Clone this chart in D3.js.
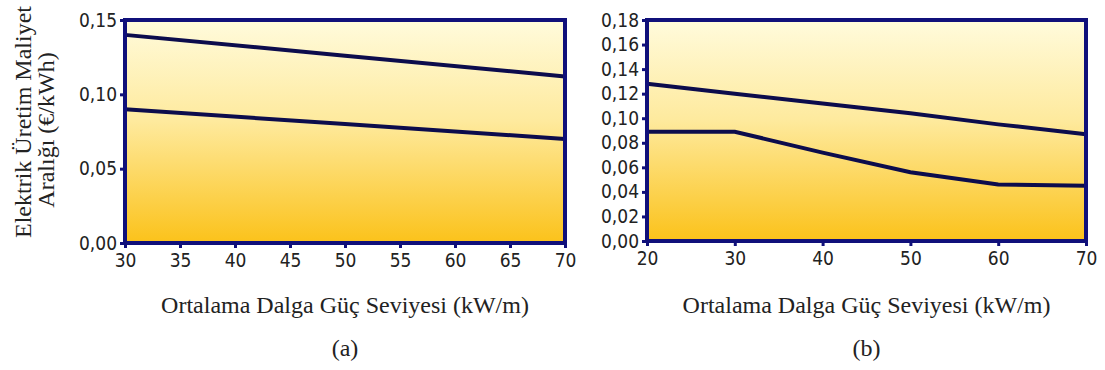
<!DOCTYPE html>
<html>
<head>
<meta charset="utf-8">
<script src="https://cdn.jsdelivr.net/npm/d3@7"></script>
<style>
  body { margin: 0; background: #fff; }
  .tick text { font-family: "DejaVu Sans Condensed", "DejaVu Sans", sans-serif; font-stretch: condensed; font-size: 19px; fill: #222; }
  .title { font-family: "Liberation Serif", "Times New Roman", serif; fill: #222; }
</style>
</head>
<body>
<div id="chart"></div>
<script>
// panel (a)
var xA = [30, 50, 70];
var upperA = [0.140, 0.126, 0.112];
var lowerA = [0.090, 0.080, 0.070];
var xTicksA = [30, 35, 40, 45, 50, 55, 60, 65, 70];
var yTicksA = [0, 0.05, 0.10, 0.15];

// panel (b)
var xB = [20, 30, 40, 50, 60, 70];
var upperB = [0.128, 0.120, 0.112, 0.104, 0.095, 0.087];
var lowerB = [0.089, 0.089, 0.072, 0.056, 0.046, 0.045];
var xTicksB = [20, 30, 40, 50, 60, 70];
var yTicksB = [0, 0.02, 0.04, 0.06, 0.08, 0.10, 0.12, 0.14, 0.16, 0.18];

var xLabel = "Ortalama Dalga Güç Seviyesi (kW/m)";
var yLabel1 = "Elektrik Üretim Maliyet";
var yLabel2 = "Aralığı (€/kWh)";

var navy = "#10107a";
var lineCol = "#0c0c4c";

var svg = d3.select("#chart")
  .append("svg")
    .attr("width", 1105)
    .attr("height", 370);

var grad = svg.append("defs").append("linearGradient")
  .attr("id", "bg")
  .attr("x1", 0).attr("y1", 0).attr("x2", 0).attr("y2", 1);
grad.append("stop").attr("offset", "0%").attr("stop-color", "#fffbdc");
grad.append("stop").attr("offset", "45%").attr("stop-color", "#feea9e");
grad.append("stop").attr("offset", "100%").attr("stop-color", "#fbc21a");

var comma = function(d) { return d3.format(".2f")(d).replace(".", ","); };

var panel = function(box, xs, ups, lows, xDom, yDom, xTicks, yTicks, tag) {
  var x = d3.scaleLinear().domain(xDom).range([box.left, box.right]);
  var y = d3.scaleLinear().domain(yDom).range([box.bottom, box.top]);

  svg.append("rect")
    .attr("x", box.left).attr("y", box.top)
    .attr("width", box.right - box.left)
    .attr("height", box.bottom - box.top)
    .attr("fill", "url(#bg)");

  var xAxis = svg.append("g")
    .attr("transform", "translate(0," + box.bottom + ")")
    .call(d3.axisBottom(x).tickValues(xTicks).tickSize(5).tickPadding(6).tickFormat(d3.format("d")));
  xAxis.select(".domain").remove();
  xAxis.selectAll("line").attr("stroke", navy).attr("stroke-width", 3);

  var yAxis = svg.append("g")
    .attr("transform", "translate(" + box.left + ",0)")
    .call(d3.axisLeft(y).tickValues(yTicks).tickSize(5).tickPadding(3).tickFormat(comma));
  yAxis.select(".domain").remove();
  yAxis.selectAll("line").attr("stroke", navy).attr("stroke-width", 3);

  var line = d3.line()
    .x(function(d, i) { return x(xs[i]) })
    .y(function(d) { return y(d) });

  svg.append("path")
    .datum(ups)
    .attr("fill", "none")
    .attr("stroke", lineCol)
    .attr("stroke-width", 4)
    .attr("d", line);
  svg.append("path")
    .datum(lows)
    .attr("fill", "none")
    .attr("stroke", lineCol)
    .attr("stroke-width", 4)
    .attr("d", line);

  svg.append("rect")
    .attr("x", box.left).attr("y", box.top)
    .attr("width", box.right - box.left)
    .attr("height", box.bottom - box.top)
    .attr("fill", "none")
    .attr("stroke", navy)
    .attr("stroke-width", 4);

  var cx = (box.left + box.right) / 2;
  svg.append("text")
    .attr("class", "title")
    .attr("x", cx).attr("y", 313)
    .attr("text-anchor", "middle")
    .style("font-size", "24px")
    .text(xLabel);
  svg.append("text")
    .attr("class", "title")
    .attr("x", cx).attr("y", 356)
    .attr("text-anchor", "middle")
    .style("font-size", "24px")
    .text(tag);
};

panel({left: 125, right: 565, top: 20, bottom: 243}, xA, upperA, lowerA,
  [30, 70], [0, 0.15], xTicksA, yTicksA, "(a)");
panel({left: 647, right: 1086, top: 20, bottom: 241}, xB, upperB, lowerB,
  [20, 70], [0, 0.18], xTicksB, yTicksB, "(b)");

svg.append("text")
  .attr("class", "title")
  .attr("transform", "translate(31,122) rotate(-90)")
  .attr("text-anchor", "middle")
  .style("font-size", "24px")
  .text(yLabel1);
svg.append("text")
  .attr("class", "title")
  .attr("transform", "translate(54,130) rotate(-90)")
  .attr("text-anchor", "middle")
  .style("font-size", "24px")
  .text(yLabel2);
</script>
</body>
</html>
